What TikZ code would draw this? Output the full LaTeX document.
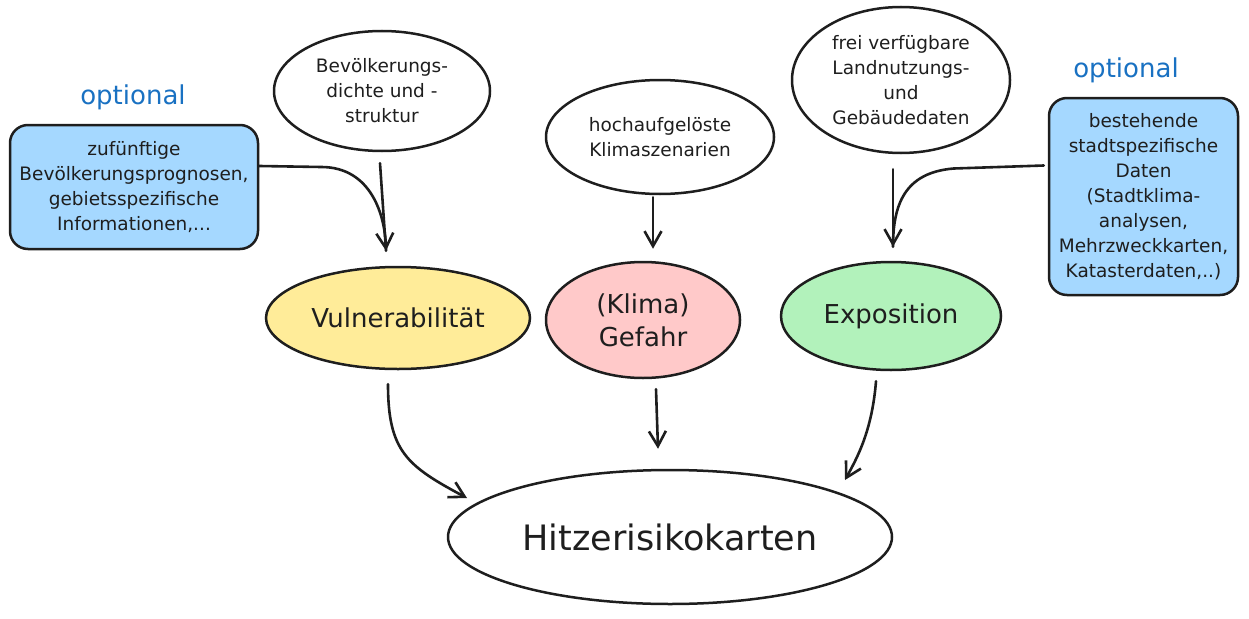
\documentclass[tikz,border=0pt]{standalone}
\usepackage{fontspec}
\setmainfont{DejaVu Sans}
\usetikzlibrary{shapes.geometric,arrows.meta}
\definecolor{ink}{HTML}{1E1E1E}
\definecolor{bluefill}{HTML}{A5D8FF}
\definecolor{optblue}{HTML}{1971C2}
\definecolor{yellowfill}{HTML}{FFEC99}
\definecolor{redfill}{HTML}{FFC9C9}
\definecolor{greenfill}{HTML}{B2F2BB}
\tikzset{
  x=1pt,y=1pt,
  smalltext/.style={font=\fontsize{18.5}{25}\selectfont,align=center,text=ink},
  srcell/.style={ellipse,draw=ink,line width=2.5pt,inner sep=0pt,smalltext},
  optbox/.style={rectangle,rounded corners=18pt,draw=ink,line width=2.5pt,fill=bluefill,inner sep=0pt,smalltext},
  midell/.style={ellipse,draw=ink,line width=2.5pt,inner sep=0pt,font=\fontsize{26}{33}\selectfont,align=center,text=ink},
  optlabel/.style={font=\fontsize{26}{30}\selectfont,text=optblue},
  arr/.style={draw=ink,line width=2.6pt,line cap=round,-{Straight Barb[length=15pt,width=17pt,line width=2.6pt]}},
  plain/.style={draw=ink,line width=2.6pt,line cap=round}
}
\begin{document}
\begin{tikzpicture}
\useasboundingbox (0,0) rectangle (1249,-618);
% optional labels
\node[optlabel] (opt1) at (133,-97) {optional};
\node[optlabel] (opt2) at (1126,-70) {optional};
% boxes
\node[optbox,minimum width=248pt,minimum height=124pt] (lbox) at (134,-187)
  {zufünftige\\Bevölkerungsprognosen,\\gebietsspezifische\\Informationen,...};
\node[optbox,minimum width=189pt,minimum height=197pt] (rbox) at (1143.5,-196.5)
  {bestehende\\stadtspezifische\\Daten\\(Stadtklima-\\analysen,\\Mehrzweckkarten,\\Katasterdaten,..)};
% source ellipses
\node[srcell,minimum width=216pt,minimum height=120pt] (bev) at (382,-91)
  {Bevölkerungs-\\dichte und -\\struktur};
\node[srcell,minimum width=228pt,minimum height=114pt] (hoch) at (660,-137)
  {hochaufgelöste\\Klimaszenarien};
\node[srcell,minimum width=218pt,minimum height=146pt] (frei) at (901,-80)
  {frei verfügbare\\Landnutzungs-\\und\\Gebäudedaten};
% middle ellipses
\node[midell,fill=yellowfill,minimum width=264pt,minimum height=102pt] (vul) at (398,-318) {Vulnerabilität};
\node[midell,fill=redfill,minimum width=194pt,minimum height=116pt] (klima) at (643,-320) {(Klima)\\Gefahr};
\node[midell,fill=greenfill,minimum width=220pt,minimum height=108pt] (expo) at (891,-316) {Exposition};
% result
\node[ellipse,draw=ink,line width=2.5pt,inner sep=0pt,minimum width=444pt,minimum height=134pt,
  font=\fontsize{35}{40}\selectfont,text=ink] (hitz) at (670,-537) {Hitzerisikokarten};
% connectors
\draw[arr] ([xshift=-2pt,yshift=-11pt]bev.south) -- ([xshift=-12pt,yshift=15pt]vul.north);
\draw[plain] ([yshift=21pt]lbox.east) -- ++(62,-1) .. controls ++(50,0) and ([xshift=-12pt,yshift=50pt]vul.north) .. ([xshift=-12pt,yshift=15pt]vul.north);
\draw[arr] ([xshift=-7pt,yshift=-2pt]hoch.south) -- ([xshift=10pt,yshift=12pt]klima.north);
\draw[arr] ([xshift=-8pt,yshift=-15pt]frei.south) -- ([xshift=2pt,yshift=14pt]expo.north);
\draw[plain] ([xshift=-4pt,yshift=31pt]rbox.west) -- ++(-90,-3) .. controls ++(-50,-4) and ([xshift=2pt,yshift=55pt]expo.north) .. ([xshift=2pt,yshift=14pt]expo.north);
\draw[arr] ([xshift=-10pt,yshift=-14pt]vul.south) .. controls ++(0,-67) and ++(-60,32) .. ([xshift=-203pt,yshift=39pt]hitz.center);
\draw[arr] ([xshift=13pt,yshift=-10pt]klima.south) -- ([xshift=-12pt,yshift=20pt]hitz.north);
\draw[arr] ([xshift=-15pt,yshift=-10pt]expo.south) .. controls ++(-4,-50) and ++(12,22) .. ([xshift=175pt,yshift=57pt]hitz.center);
\end{tikzpicture}
\end{document}
